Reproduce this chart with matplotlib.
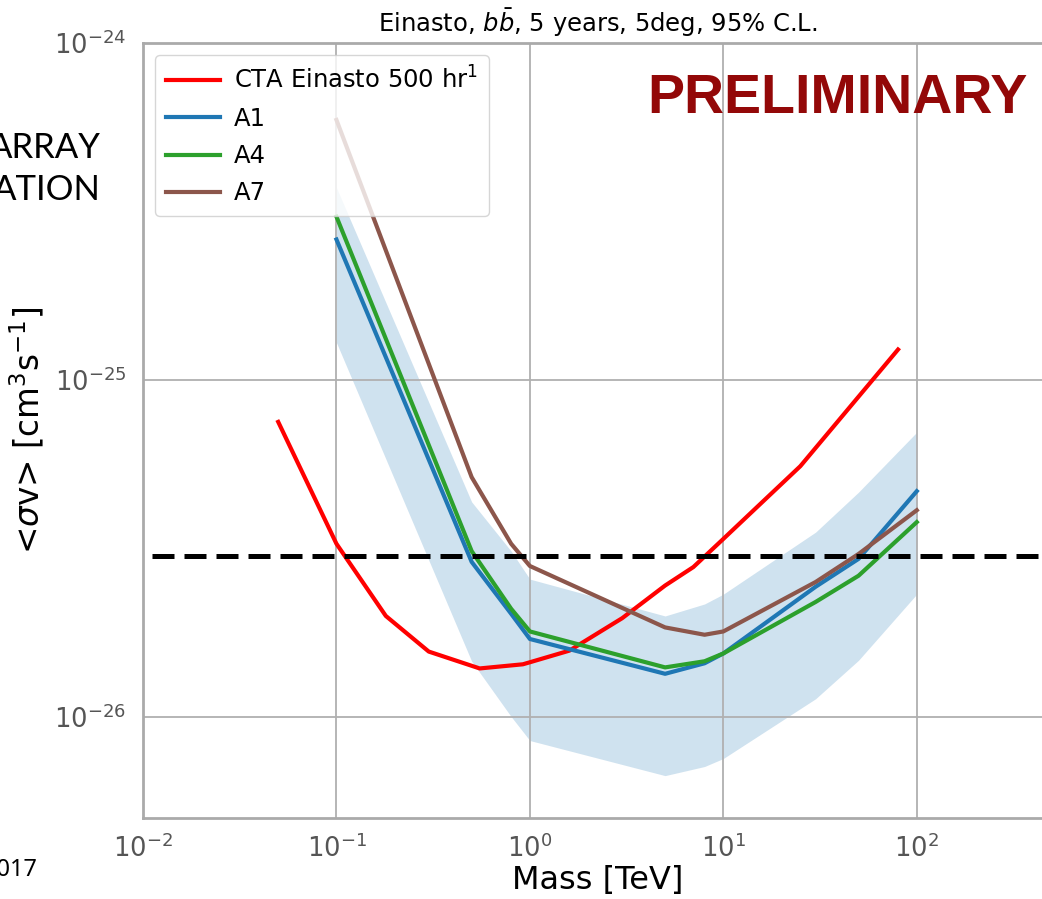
import matplotlib
matplotlib.use("Agg")
import matplotlib.pyplot as plt
import numpy as np

# CTA reference curve (Einasto, 500 hr)
cta_mass = [0.05, 0.1, 0.18, 0.3, 0.55, 0.92, 1.0, 1.6, 3.0, 5.0, 7.0, 10.0, 15.0, 25.0, 80.0]
cta_sv = [7.5e-26, 3.26e-26, 1.99e-26, 1.56e-26, 1.39e-26, 1.43e-26, 1.45e-26, 1.57e-26,
          1.96e-26, 2.45e-26, 2.78e-26, 3.37e-26, 4.2e-26, 5.54e-26, 1.23e-25]

# array configurations
mass = [0.1, 0.5, 0.8, 1.0, 5.0, 8.0, 10.0, 30.0, 50.0, 100.0]
a1_sv = [2.61e-25, 2.88e-26, 2.02e-26, 1.70e-26, 1.34e-26, 1.44e-26, 1.54e-26, 2.43e-26, 2.94e-26, 4.67e-26]
a4_sv = [3.05e-25, 3.10e-26, 2.09e-26, 1.79e-26, 1.40e-26, 1.46e-26, 1.54e-26, 2.19e-26, 2.62e-26, 3.78e-26]
a7_sv = [5.91e-25, 5.14e-26, 3.26e-26, 2.80e-26, 1.84e-26, 1.75e-26, 1.79e-26, 2.51e-26, 3.04e-26, 4.10e-26]

# containment band around A1
band_hi = [3.72e-25, 4.34e-26, 3.1e-26, 2.56e-26, 1.99e-26, 2.16e-26, 2.31e-26, 3.53e-26, 4.64e-26, 6.99e-26]
band_lo = [1.29e-25, 1.46e-26, 1.0e-26, 8.49e-27, 6.68e-27, 7.11e-27, 7.51e-27, 1.13e-26, 1.47e-26, 2.31e-26]

thermal = 3e-26

fig = plt.figure(figsize=(10.42, 8.99), dpi=100)
ax = fig.add_axes([143 / 1042, 81 / 899, 909 / 1042, 775 / 899])

ax.fill_between(mass, band_lo, band_hi, color='#1f77b4', alpha=0.21, lw=0)
ax.plot(cta_mass, cta_sv, color='#ff0000', lw=3, label='CTA Einasto 500 hr$^{1}$')
ax.plot(mass, a1_sv, color='#1f77b4', lw=3, label='A1')
ax.plot(mass, a4_sv, color='#2ca02c', lw=3, label='A4')
ax.plot(mass, a7_sv, color='#8c564b', lw=3, label='A7')
ax.axhline(thermal, color='black', lw=3.6, linestyle=(0, (4.4, 2)), xmin=0.01)

ax.set_xscale('log')
ax.set_yscale('log')
ax.set_xlim(1e-2, 5e2)
ax.set_ylim(5e-27, 1e-24)
ax.set_xticks([1e-2, 1e-1, 1e0, 1e1, 1e2])
ax.set_yticks([1e-26, 1e-25, 1e-24])
ax.minorticks_off()
ax.tick_params(length=0, pad=12, labelsize=18.5, labelcolor='#555555')
ax.grid(True, color='#b0b0b0', lw=1.3)
for s in ax.spines.values():
    s.set_color('#aaaaaa')
    s.set_linewidth(2)

ax.set_xlabel('Mass [TeV]', fontsize=23, labelpad=1)
ax.set_ylabel('<$\\sigma$v> [cm$^3$s$^{-1}$]', fontsize=23.5, labelpad=6)
ax.set_title('Einasto, $b\\bar{b}$, 5 years, 5deg, 95% C.L.', fontsize=17.5, pad=8)

ax.legend(loc='upper left', fontsize=17.5, handlelength=2.2, borderpad=0.45,
          labelspacing=0.55, handletextpad=0.6)

ax.text(1028 / 1042 * 1042 / 909 - 143 / 909, 1 - (113 - 43) / 775, 'PRELIMINARY',
        transform=ax.transAxes, ha='right', va='baseline', fontsize=40,
        fontweight='bold', color='#930808', family='Liberation Sans')

# cropped slide text at the left edge
fig.text(101 / 1042, 1 - 158 / 899, 'ARRAY', ha='right', va='baseline',
         fontsize=25, family='Lato')
fig.text(101 / 1042, 1 - 200 / 899, 'ATION', ha='right', va='baseline',
         fontsize=25, family='Lato')
fig.text(38 / 1042, 1 - 876 / 899, '2017', ha='right', va='baseline',
         fontsize=17, family='Noto Sans')

fig.savefig('out.png', dpi=100)
